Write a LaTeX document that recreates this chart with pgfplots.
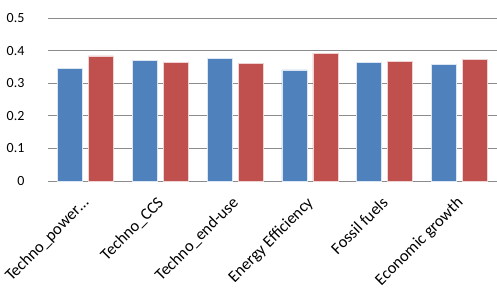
\documentclass[border=0pt]{standalone}
\usepackage{pgfplots}
\pgfplotsset{compat=1.18}
\usepackage{fontspec}
\setmainfont{Carlito}
\usetikzlibrary{calc}
\definecolor{xblue}{HTML}{4F81BD}
\definecolor{xred}{HTML}{C0504D}
\definecolor{xgrid}{HTML}{8C8C8C}
\begin{document}
\begin{tikzpicture}
\begin{axis}[
  name=ax,
  scale only axis,
  width=449pt, height=163pt,
  ymin=0, ymax=0.5,
  xmin=-0.5, xmax=5.5,
  ytick={0,0.1,0.2,0.3,0.4,0.5},
  ymajorgrids,
  grid style={xgrid, line width=0.8pt},
  axis line style={draw=none},
  major tick length=0pt,
  xtick={0,1,2,3,4,5},
  xticklabels={Techno\_power\ldots, Techno\_CCS, Techno\_end-use, Energy Efficiency, Fossil fuels, Economic growth},
  x tick label style={xshift=-4pt, yshift=-13pt, rotate=45, anchor=north east, font=\fontsize{16.5}{17}\selectfont, inner sep=1pt},
  y tick label style={font=\fontsize{14}{15}\selectfont, xshift=-20pt},
  /pgf/number format/assume math mode=true,
  ybar=6pt, bar width=25pt,
  clip=false,
]
\addplot[fill=xblue, draw=white!80!xblue, line width=0.6pt] coordinates {(0,0.345) (1,0.369) (2,0.376) (3,0.341) (4,0.364) (5,0.357)};
\addplot[fill=xred, draw=white!75!xred, line width=0.6pt] coordinates {(0,0.384) (1,0.365) (2,0.361) (3,0.392) (4,0.368) (5,0.372)};
\end{axis}
\pgfresetboundingbox
\path ($(ax.south west)+(-48pt,-107pt)$) rectangle ($(ax.north east)+(0pt,18pt)$);
\end{tikzpicture}
\end{document}
